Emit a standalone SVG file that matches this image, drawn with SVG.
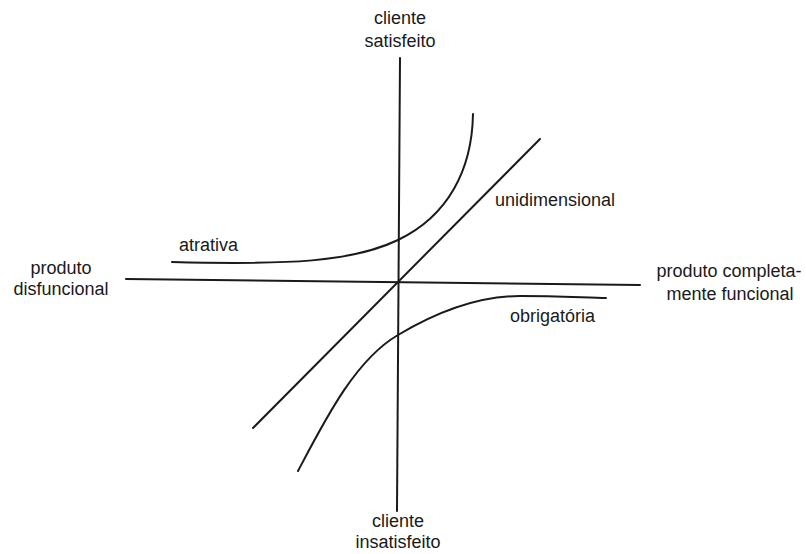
<svg xmlns="http://www.w3.org/2000/svg" width="806" height="554" viewBox="0 0 806 554">
<style>
text { font-family: "Liberation Sans", Arial, sans-serif; font-size: 18px; fill: #1a1a1a; }
.c { text-anchor: middle; }
.ln { fill: none; stroke: #1a1a1a; stroke-width: 2; stroke-linecap: round; }
</style>
<rect width="806" height="554" fill="#ffffff"/>
<g id="axes">
  <line class="ln" x1="400" y1="58" x2="397" y2="511"/>
  <line class="ln" x1="126" y1="279" x2="640" y2="285"/>
</g>
<g id="connectors">
  <path id="unidimensional-line" class="ln" d="M253,428 L540,139"/>
  <path id="atrativa-curve" class="ln" d="M172,262 C290,265 352,262 398,240 C448,216 472,170 473,114"/>
  <path id="obrigatoria-curve" class="ln" d="M298,471 C325,420 355,360 398,335 C440,310 480,296 520,296 C560,296 590,298 606,298"/>
</g>
<g id="label-top">
  <text class="c" x="400" y="24">cliente</text>
  <text class="c" x="400" y="47">satisfeito</text>
</g>
<g id="label-bottom">
  <text class="c" x="398" y="527">cliente</text>
  <text class="c" x="398" y="548">insatisfeito</text>
</g>
<g id="label-left">
  <text class="c" x="61" y="274">produto</text>
  <text class="c" x="61" y="295">disfuncional</text>
</g>
<g id="label-right">
  <text class="c" x="729" y="277">produto completa-</text>
  <text class="c" x="730" y="300">mente funcional</text>
</g>
<g id="label-atrativa">
  <text x="179" y="251">atrativa</text>
</g>
<g id="label-unidimensional">
  <text x="495" y="206">unidimensional</text>
</g>
<g id="label-obrigatoria">
  <text x="510" y="322">obrigatória</text>
</g>
</svg>
